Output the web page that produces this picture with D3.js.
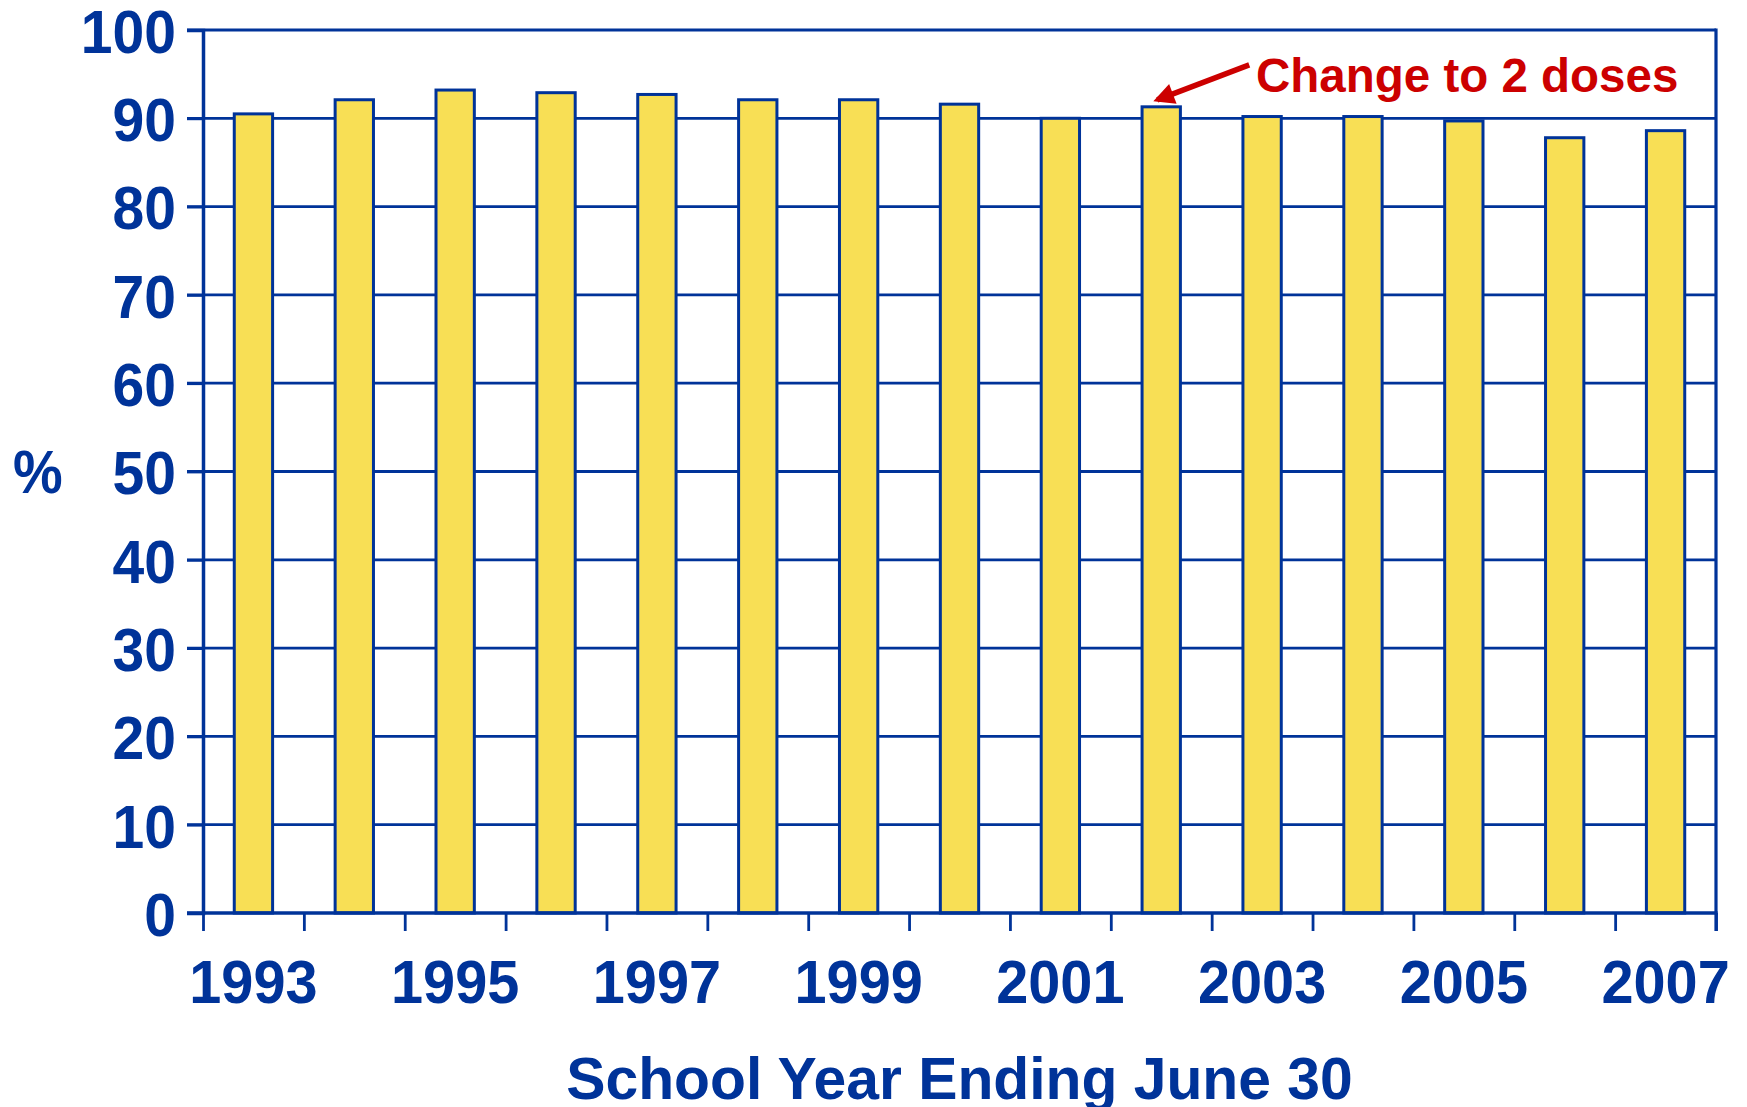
<!DOCTYPE html>
<html>
<head>
<meta charset="utf-8">
<script src="https://d3js.org/d3.v7.min.js"></script>
<style>
body { margin: 0; background: white; }
svg text { font-family: "Liberation Sans", Arial, sans-serif; font-weight: bold; }
</style>
</head>
<body>
<svg width="1747" height="1107"></svg>
<script>
// data
var years = [1993, 1994, 1995, 1996, 1997, 1998, 1999, 2000, 2001, 2002, 2003, 2004, 2005, 2006, 2007];
var values = [90.5, 92.1, 93.2, 92.9, 92.7, 92.1, 92.1, 91.6, 90.0, 91.3, 90.2, 90.2, 89.7, 87.8, 88.6];
var yTicks = [0, 10, 20, 30, 40, 50, 60, 70, 80, 90, 100];
var xLabels = [1993, 1995, 1997, 1999, 2001, 2003, 2005, 2007];
var note = {year: 2002, text: "Change to 2 doses"};

var blue = "#003399";
var yellow = "#F8DF55";
var red = "#CC0000";

var svg = d3.select("svg");
var pLeft = 203, pRight = 1716, pTop = 30, pBottom = 913;

var x = d3.scaleBand().domain(years).range([pLeft, pRight]).paddingInner(0.62).paddingOuter(0.31);
var y = d3.scaleLinear().domain([0, 100]).range([pBottom, pTop]);
var xi = d3.scaleLinear().domain([0, years.length]).range([pLeft, pRight]);

// squeeze the big labels a bit, the original font is narrower
function narrow(sel, k) {
  sel.each(function() {
    var w = this.getComputedTextLength();
    d3.select(this).attr("textLength", w * k).attr("lengthAdjust", "spacingAndGlyphs");
  });
}

// gridlines (incl. top border)
svg.append("g").selectAll("line").data(yTicks.filter(function(d){ return d > 0; })).enter().append("line")
  .attr("x1", pLeft - 16).attr("x2", pRight)
  .attr("y1", function(d){ return y(d); }).attr("y2", function(d){ return y(d); })
  .attr("stroke", blue).attr("stroke-width", function(d){ return d == 100 ? 3.2 : 2.8; });

// right border
svg.append("line").attr("x1", pRight).attr("x2", pRight).attr("y1", pTop - 1.5).attr("y2", pBottom + 18)
  .attr("stroke", blue).attr("stroke-width", 3.2);

// bars
svg.append("g").selectAll("rect").data(values).enter().append("rect")
  .attr("x", function(d, i){ return x(years[i]); })
  .attr("y", function(d){ return y(d); })
  .attr("width", x.bandwidth())
  .attr("height", function(d){ return y(0) - y(d); })
  .attr("fill", yellow).attr("stroke", blue).attr("stroke-width", 3);

// y axis
var ya = svg.append("g").attr("transform", "translate(" + pLeft + ",0)")
  .call(d3.axisLeft(y).tickValues(yTicks).tickSize(16).tickPadding(11));
ya.select(".domain").attr("stroke", blue).attr("stroke-width", 3.5);
ya.selectAll(".tick line").attr("stroke", blue).attr("stroke-width", 2.8);
ya.selectAll("text").attr("fill", blue).style("font-size", "62px").attr("dy", "0.36em").call(narrow, 0.92);

// x axis ticks at band boundaries
var xa = svg.append("g").attr("transform", "translate(0," + pBottom + ")")
  .call(d3.axisBottom(xi).tickValues(d3.range(years.length + 1)).tickSize(18).tickFormat(""));
xa.select(".domain").remove();
xa.selectAll(".tick line").attr("stroke", blue).attr("stroke-width", 2.8);
svg.append("line").attr("x1", pLeft - 16).attr("x2", pRight + 1.6).attr("y1", pBottom).attr("y2", pBottom)
  .attr("stroke", blue).attr("stroke-width", 3.5);

// x labels
var xl = svg.append("g").attr("transform", "translate(0," + pBottom + ")")
  .call(d3.axisBottom(x).tickValues(xLabels).tickSize(0).tickPadding(46));
xl.select(".domain").remove();
xl.selectAll("text").attr("fill", blue).style("font-size", "62px").call(narrow, 0.93);

// axis titles
svg.append("text").attr("x", 13).attr("y", 493).attr("fill", blue)
  .style("font-size", "62px").text("%").call(narrow, 0.9);
svg.append("text").attr("x", (pLeft + pRight) / 2).attr("y", 1099).attr("text-anchor", "middle")
  .attr("fill", blue).style("font-size", "60px").text("School Year Ending June 30").call(narrow, 0.98);

// annotation
svg.append("defs").append("marker")
  .attr("id", "head").attr("viewBox", "0 0 10 10").attr("refX", 8).attr("refY", 5)
  .attr("markerWidth", 4).attr("markerHeight", 3.8).attr("orient", "auto")
  .append("path").attr("d", "M0,0 L10,5 L0,10 z").attr("fill", red);
var nx = x(note.year) + x.bandwidth() / 2, ny = y(values[years.indexOf(note.year)]);
svg.append("line")
  .attr("x1", nx + 88).attr("y1", ny - 42)
  .attr("x2", nx - 4).attr("y2", ny - 7)
  .attr("stroke", red).attr("stroke-width", 5.5).attr("marker-end", "url(#head)");
svg.append("text").attr("x", 1256).attr("y", 92).attr("fill", red)
  .style("font-size", "47.5px").text(note.text);
</script>
</body>
</html>
